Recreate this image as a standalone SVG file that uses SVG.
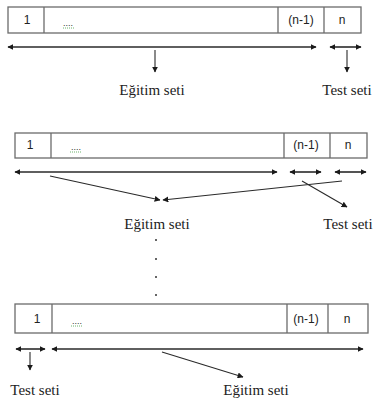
<svg xmlns="http://www.w3.org/2000/svg" width="376" height="403" viewBox="0 0 376 403">
<style>
.bar{fill:#fff;stroke:#6b6b6b;stroke-width:1.3}
.div{stroke:#6b6b6b;stroke-width:1.3}
.num{font-family:"Liberation Sans",Arial,sans-serif;font-size:12px;fill:#222;text-anchor:middle}
.dots{font-family:"Liberation Sans",Arial,sans-serif;font-size:9px;fill:#333;text-anchor:middle}
.sq{stroke:#6fb36f;stroke-width:1;stroke-dasharray:1 1}
.lbl{font-family:"Liberation Serif","Times New Roman",serif;font-size:15px;fill:#222;text-anchor:middle}
.h{stroke:#2a2a2a;stroke-width:1.6;fill:none;marker-start:url(#a);marker-end:url(#a)}
.d{stroke:#2a2a2a;stroke-width:1.1;fill:none;marker-end:url(#a)}
.dot{fill:#333}
</style>
<defs>
<marker id="a" viewBox="0 0 10 10" refX="9" refY="5" markerWidth="6" markerHeight="6" markerUnits="userSpaceOnUse" orient="auto-start-reverse">
<path d="M0,0 L10,5 L0,10 Z" fill="#1a1a1a"/>
</marker>
</defs>
<g id="bar1">
<rect class="bar" x="8" y="7" width="353" height="26"/>
<line class="div" x1="44" y1="7" x2="44" y2="33"/>
<line class="div" x1="278" y1="7" x2="278" y2="33"/>
<line class="div" x1="324" y1="7" x2="324" y2="33"/>
<text class="num" x="27" y="24">1</text>
<text class="dots" x="68" y="26">....</text>
<line class="sq" x1="63" y1="28" x2="74" y2="28"/>
<text class="num" x="301" y="24">(n-1)</text>
<text class="num" x="342" y="24">n</text>
</g>
<g id="bar2">
<rect class="bar" x="15" y="133" width="352" height="25"/>
<line class="div" x1="51" y1="133" x2="51" y2="158"/>
<line class="div" x1="284" y1="133" x2="284" y2="158"/>
<line class="div" x1="330" y1="133" x2="330" y2="158"/>
<text class="num" x="30" y="149">1</text>
<text class="dots" x="76" y="150">....</text>
<line class="sq" x1="70" y1="152" x2="82" y2="152"/>
<text class="num" x="306" y="149">(n-1)</text>
<text class="num" x="348" y="149">n</text>
</g>
<g id="bar3">
<rect class="bar" x="15" y="304" width="353" height="29"/>
<line class="div" x1="52" y1="304" x2="52" y2="333"/>
<line class="div" x1="287" y1="304" x2="287" y2="333"/>
<line class="div" x1="328" y1="304" x2="328" y2="333"/>
<text class="num" x="37" y="323">1</text>
<text class="dots" x="77" y="324">....</text>
<line class="sq" x1="71" y1="326" x2="83" y2="326"/>
<text class="num" x="306" y="323">(n-1)</text>
<text class="num" x="347" y="323">n</text>
</g>
<g id="labels">
<text class="lbl" x="152" y="95">Eğitim seti</text>
<text class="lbl" x="347" y="95">Test seti</text>
<text class="lbl" x="157" y="229">Eğitim seti</text>
<text class="lbl" x="348" y="229">Test seti</text>
<text class="lbl" x="35" y="395">Test seti</text>
<text class="lbl" x="256" y="395">Eğitim seti</text>
</g>
<g id="ellipsis">
<circle class="dot" cx="156" cy="240" r="1"/>
<circle class="dot" cx="156" cy="259" r="1"/>
<circle class="dot" cx="156" cy="277" r="1"/>
<circle class="dot" cx="156" cy="295" r="1"/>
</g>
<g id="connectors">
<line class="h" x1="8" y1="47" x2="316" y2="47"/>
<line class="h" x1="330" y1="47" x2="361" y2="47"/>
<line class="d" x1="155" y1="50" x2="155" y2="72"/>
<line class="d" x1="347" y1="50" x2="347" y2="72"/>
<line class="h" x1="15" y1="172" x2="277" y2="172"/>
<line class="h" x1="290" y1="172" x2="321" y2="172"/>
<line class="h" x1="335" y1="172" x2="366" y2="172"/>
<line class="d" x1="50" y1="176" x2="160" y2="200"/>
<line class="d" x1="342" y1="181" x2="163" y2="200"/>
<line class="d" x1="302" y1="181" x2="347" y2="207"/>
<line class="h" x1="16" y1="349" x2="45" y2="349"/>
<line class="h" x1="52" y1="349" x2="363" y2="349"/>
<line class="d" x1="30" y1="352" x2="30" y2="370"/>
<line class="d" x1="162" y1="352" x2="243" y2="377"/>
</g>
</svg>
